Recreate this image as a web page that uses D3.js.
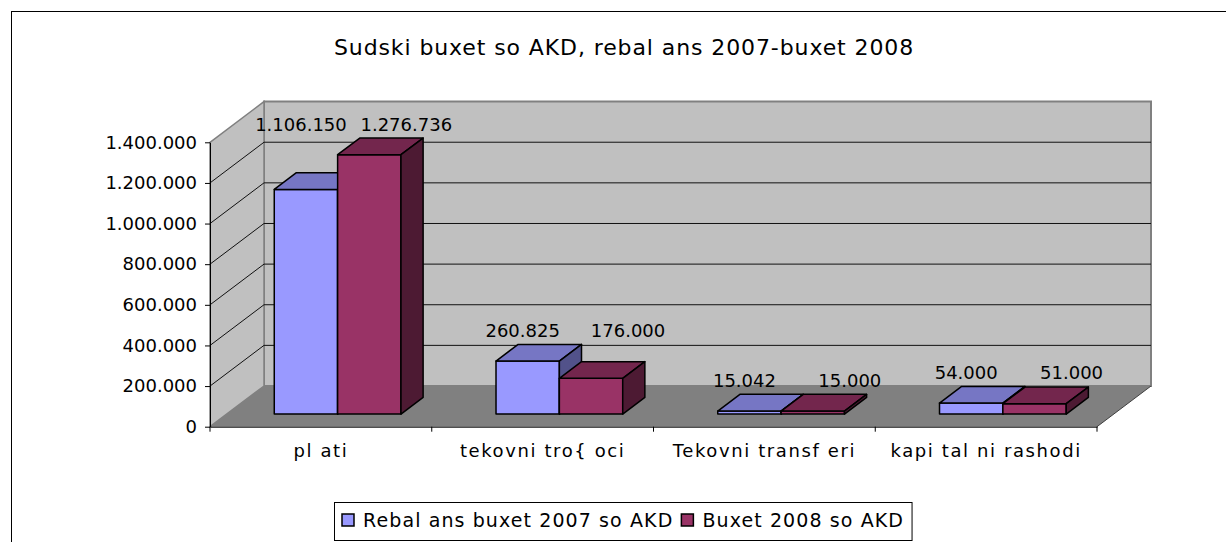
<!DOCTYPE html>
<html>
<head>
<meta charset="utf-8">
<script src="https://cdnjs.cloudflare.com/ajax/libs/d3/7.8.5/d3.min.js"></script>
<style>
  body { margin: 0; background: #fff; }
  svg { display: block; font-family: 'DejaVu Sans', sans-serif; }
</style>
</head>
<body>
<svg id="chart" width="1226" height="542"></svg>
<script>
// chart data
var title = 'Sudski buxet so AKD, rebal ans 2007-buxet 2008'
var categories = ['pl ati', 'tekovni tro{ oci', 'Tekovni transf eri', 'kapi tal ni rashodi']
var seriesNames = ['Rebal ans buxet 2007 so AKD', 'Buxet 2008 so AKD']
var rebalans2007 = [1106150, 260825, 15042, 54000]
var buxet2008 = [1276736, 176000, 15000, 51000]
var yTicks = [0, 200000, 400000, 600000, 800000, 1000000, 1200000, 1400000]

var faces = [
  {front: '#9999ff', top: '#7676c4', side: '#52528a'},
  {front: '#993366', top: '#73264d', side: '#4d1a33'}
]

var svg = d3.select('#chart'),
  plot = {left: 210, right: 1097, bottom: 426.7, top: 142.3},
  depth = {x: 54, y: 40.7},
  barZ = [0.31, 0.72],
  labelShift = [-5, 37]

var fmt = d3.formatLocale({decimal: ',', thousands: '.', grouping: [3], currency: ['', '']}).format(',')

var x = d3.scaleBand().domain(categories).range([plot.left, plot.right])
var xs = d3.scaleBand().domain([0, 1]).range([0, x.bandwidth()]).paddingOuter(0.75)
var y = d3.scaleLinear().domain([0, yTicks[yTicks.length - 1]]).range([plot.bottom, plot.top])
var yMax = yTicks[yTicks.length - 1]

// oblique projection: z = 0 front plane, z = 1 back wall
function pt(px, py, z) { return [px + z * depth.x, py - z * depth.y] }
function poly(points) { return points.map(function(p) { return p.join(',') }).join(' ') }

// outer chart frame
svg.append('rect')
  .attr('x', 11.5).attr('y', 11.5)
  .attr('width', 1240).attr('height', 560)
  .attr('fill', 'none').attr('stroke', '#000')

svg.append('text')
  .attr('x', 624).attr('y', 55)
  .attr('text-anchor', 'middle')
  .attr('font-size', 22)
  .attr('letter-spacing', 0.9)
  .text(title)

var walls = svg.append('g')

walls.append('polygon')
  .attr('points', poly([pt(plot.left, y(yMax), 1), pt(plot.right, y(yMax), 1), pt(plot.right, y(0), 1), pt(plot.left, y(0), 1)]))
  .attr('fill', '#c0c0c0').attr('stroke', '#808080').attr('stroke-width', 2)

walls.append('polygon')
  .attr('points', poly([pt(plot.left, y(yMax), 0), pt(plot.left, y(yMax), 1), pt(plot.left, y(0), 1), pt(plot.left, y(0), 0)]))
  .attr('fill', '#c0c0c0').attr('stroke', '#808080').attr('stroke-width', 1.5)

walls.append('polygon')
  .attr('points', poly([pt(plot.left, y(0), 0), pt(plot.left, y(0), 1), pt(plot.right, y(0), 1), pt(plot.right, y(0), 0)]))
  .attr('fill', '#808080')

walls.append('line')
  .attr('x1', pt(plot.right, y(0), 0)[0]).attr('y1', pt(plot.right, y(0), 0)[1])
  .attr('x2', pt(plot.right, y(0), 1)[0]).attr('y2', pt(plot.right, y(0), 1)[1])
  .attr('stroke', '#404040')

var inner = yTicks.filter(function(v) { return v > 0 && v < yMax })

walls.selectAll('.grid-back')
  .data(inner)
  .enter().append('line')
  .attr('class', 'grid-back')
  .attr('x1', function(v) { return pt(plot.left, y(v), 1)[0] })
  .attr('y1', function(v) { return pt(plot.left, y(v), 1)[1] })
  .attr('x2', function(v) { return pt(plot.right, y(v), 1)[0] })
  .attr('y2', function(v) { return pt(plot.right, y(v), 1)[1] })
  .attr('stroke', '#111')

walls.selectAll('.grid-side')
  .data(inner)
  .enter().append('line')
  .attr('class', 'grid-side')
  .attr('x1', function(v) { return pt(plot.left, y(v), 0)[0] })
  .attr('y1', function(v) { return pt(plot.left, y(v), 0)[1] })
  .attr('x2', function(v) { return pt(plot.left, y(v), 1)[0] })
  .attr('y2', function(v) { return pt(plot.left, y(v), 1)[1] })
  .attr('stroke', '#111')

// y axis
var yAxis = svg.append('g')
  .attr('transform', 'translate(' + plot.left + ',0)')
  .call(d3.axisLeft(y).tickValues(yTicks).tickSize(5).tickSizeOuter(0).tickPadding(8).tickFormat(fmt))
yAxis.select('.domain').attr('stroke', '#000')
yAxis.selectAll('text')
  .attr('font-family', 'DejaVu Sans, sans-serif')
  .attr('font-size', 18)
  .attr('fill', '#000')

// x axis
var xAxis = svg.append('g')
  .attr('transform', 'translate(0,' + plot.bottom + ')')
  .call(d3.axisBottom(x).tickSize(0).tickSizeOuter(0).tickPadding(18))
xAxis.select('.domain').attr('stroke', '#000')
xAxis.selectAll('text')
  .attr('font-family', 'DejaVu Sans, sans-serif')
  .attr('font-size', 18)
  .attr('letter-spacing', 1.6)
  .attr('fill', '#000')
xAxis.selectAll('.edge')
  .data(categories.map(function(c) { return x(c) }).concat([plot.right]))
  .enter().append('line')
  .attr('class', 'edge')
  .attr('x1', function(d) { return d }).attr('x2', function(d) { return d })
  .attr('y1', 0).attr('y2', 5)
  .attr('stroke', '#000')

// bars
var bars = []
categories.forEach(function(c, i) {
  [rebalans2007[i], buxet2008[i]].forEach(function(v, s) {
    bars.push({cat: c, s: s, v: v, xl: x(c) + xs(s), w: xs.bandwidth()})
  })
})

var barG = svg.append('g')
  .selectAll('g')
  .data(bars)
  .enter().append('g')
  .attr('stroke', '#000')
  .attr('stroke-width', 1.5)
  .attr('stroke-linejoin', 'round')

barG.append('polygon')
  .attr('fill', function(d) { return faces[d.s].front })
  .attr('points', function(d) {
    return poly([pt(d.xl, y(d.v), barZ[0]), pt(d.xl + d.w, y(d.v), barZ[0]), pt(d.xl + d.w, y(0), barZ[0]), pt(d.xl, y(0), barZ[0])])
  })

barG.append('polygon')
  .attr('fill', function(d) { return faces[d.s].top })
  .attr('points', function(d) {
    return poly([pt(d.xl, y(d.v), barZ[0]), pt(d.xl + d.w, y(d.v), barZ[0]), pt(d.xl + d.w, y(d.v), barZ[1]), pt(d.xl, y(d.v), barZ[1])])
  })

barG.append('polygon')
  .attr('fill', function(d) { return faces[d.s].side })
  .attr('points', function(d) {
    return poly([pt(d.xl + d.w, y(d.v), barZ[0]), pt(d.xl + d.w, y(d.v), barZ[1]), pt(d.xl + d.w, y(0), barZ[1]), pt(d.xl + d.w, y(0), barZ[0])])
  })

// data labels, lifted above the taller bar of each pair
svg.append('g')
  .selectAll('text')
  .data(bars)
  .enter().append('text')
  .attr('text-anchor', 'middle')
  .attr('font-size', 18)
  .attr('x', function(d) { return pt(d.xl + d.w / 2, 0, barZ[0])[0] + labelShift[d.s] })
  .attr('y', function(d) {
    var i = categories.indexOf(d.cat)
    var top = Math.max(rebalans2007[i], buxet2008[i])
    return pt(0, y(top), barZ[0])[1] - 30
  })
  .attr('dy', '0.35em')
  .text(function(d) { return fmt(d.v) })

// legend
var legend = svg.append('g')
var box = legend.append('rect')
  .attr('y', 502.5).attr('height', 38)
  .attr('fill', '#fff').attr('stroke', '#000')

var cx = 342
seriesNames.forEach(function(name, s) {
  legend.append('rect')
    .attr('x', cx).attr('y', 514)
    .attr('width', 12).attr('height', 12)
    .attr('fill', faces[s].front)
    .attr('stroke', '#000').attr('stroke-width', 1.5)
  var t = legend.append('text')
    .attr('x', cx + 21).attr('y', 527)
    .attr('font-size', 19)
    .attr('letter-spacing', 1.1)
    .text(name)
  cx += 21 + t.node().getComputedTextLength() + 8
})
box.attr('x', 334.5).attr('width', cx - 334.5)
</script>
</body>
</html>
